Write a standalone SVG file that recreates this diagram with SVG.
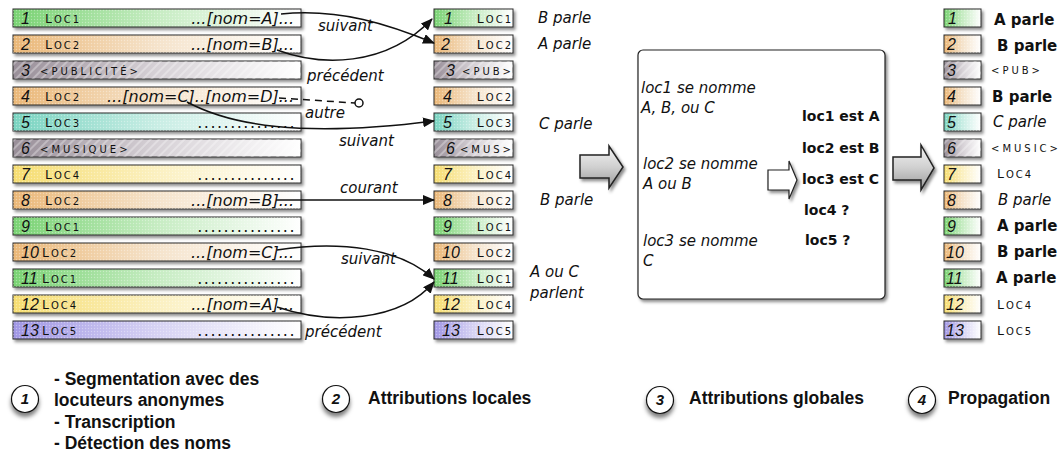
<svg xmlns="http://www.w3.org/2000/svg" width="1064" height="456" viewBox="0 0 1064 456">
<defs>
<style>
.row{stroke:#2a2a2a;stroke-width:1;filter:url(#sh)}
.tex{stroke:none}
.num{font-family:"Liberation Sans",Arial,sans-serif;font-style:italic;font-size:16px;fill:#111}
.sc{font-family:"DejaVu Sans",sans-serif;font-size:10px;letter-spacing:2px;fill:#111}
.sc2{font-family:"DejaVu Sans",sans-serif;font-size:10px;letter-spacing:3px;fill:#111}
.cap{font-size:12.5px}
.nom{font-family:"DejaVu Sans",sans-serif;font-style:italic;font-size:16px;fill:#111;text-anchor:end}
.dots{font-family:"DejaVu Sans",sans-serif;font-size:16px;letter-spacing:1.5px;fill:#111;text-anchor:end}
.it{font-family:"DejaVu Sans",sans-serif;font-style:italic;font-size:15px;fill:#111}
.bd{font-family:"DejaVu Sans",sans-serif;font-weight:bold;font-size:14px;fill:#111}
.bd15{font-family:"DejaVu Sans",sans-serif;font-weight:bold;font-size:15px;fill:#111}
.step{font-family:"Liberation Sans",Arial,sans-serif;font-weight:bold;font-size:17.5px;fill:#111}
.cnum{font-family:"Liberation Sans",Arial,sans-serif;font-weight:bold;font-style:italic;font-size:15px;fill:#111;text-anchor:middle}
.con{fill:none;stroke:#111;stroke-width:1.5}
.circ{fill:#fff;stroke:#111;stroke-width:1.2;filter:url(#sh2)}
.big{stroke:#222;stroke-width:1.5;fill:url(#gArrow);filter:url(#sh)}
</style>
<filter id="sh" x="-20%" y="-30%" width="140%" height="180%">
<feDropShadow dx="2" dy="2.5" stdDeviation="1.5" flood-color="#000" flood-opacity="0.45"/>
</filter>
<filter id="sh2" x="-40%" y="-40%" width="180%" height="200%">
<feDropShadow dx="0" dy="4" stdDeviation="2" flood-color="#000" flood-opacity="0.5"/>
</filter>
<linearGradient id="gGreen"><stop offset="0" stop-color="#78d272"/><stop offset="0.5" stop-color="#c6ecc2"/><stop offset="1" stop-color="#ffffff"/></linearGradient>
<linearGradient id="gTan"><stop offset="0" stop-color="#eab777"/><stop offset="0.5" stop-color="#f5e3cb"/><stop offset="1" stop-color="#ffffff"/></linearGradient>
<linearGradient id="gGray"><stop offset="0" stop-color="#988e98"/><stop offset="0.5" stop-color="#d6d1d6"/><stop offset="1" stop-color="#ffffff"/></linearGradient>
<linearGradient id="gTeal"><stop offset="0" stop-color="#78d3c0"/><stop offset="0.5" stop-color="#c8ede4"/><stop offset="1" stop-color="#ffffff"/></linearGradient>
<linearGradient id="gYel"><stop offset="0" stop-color="#f6dd70"/><stop offset="0.5" stop-color="#fbf0c0"/><stop offset="1" stop-color="#ffffff"/></linearGradient>
<linearGradient id="gPur"><stop offset="0" stop-color="#a096e4"/><stop offset="0.5" stop-color="#d6d2f3"/><stop offset="1" stop-color="#ffffff"/></linearGradient>
<linearGradient id="gArrow" x1="0" y1="0" x2="0" y2="1"><stop offset="0" stop-color="#f4f4f4"/><stop offset="0.5" stop-color="#d0d0d0"/><stop offset="1" stop-color="#9a9a9a"/></linearGradient>
<pattern id="pDots" width="3" height="3" patternUnits="userSpaceOnUse"><circle cx="1.5" cy="1.5" r="0.7" fill="#ffffff" fill-opacity="0.35"/></pattern>
<pattern id="pStripe" width="6" height="6" patternUnits="userSpaceOnUse" patternTransform="rotate(45)"><rect width="2" height="6" fill="#ffffff" fill-opacity="0.3"/></pattern>
<marker id="ah" viewBox="0 0 12 10" refX="11" refY="5" markerWidth="12" markerHeight="10" markerUnits="userSpaceOnUse" orient="auto"><path d="M0,0 L12,5 L0,10 Z" fill="#111"/></marker>
</defs>
<rect width="1064" height="456" fill="#ffffff"/>

<!-- Left column -->
<g id="L1"><rect class="row" x="13" y="9" width="288" height="18" fill="url(#gGreen)"/><rect class="tex" x="13" y="9" width="288" height="18" fill="url(#pDots)"/><text class="num" x="21" y="24">1</text><text class="sc" x="45" y="23"><tspan class="cap">L</tspan>OC1</text><text class="nom" x="294" y="24">...[nom=A]...</text></g>
<g id="L2"><rect class="row" x="13" y="35" width="288" height="18" fill="url(#gTan)"/><rect class="tex" x="13" y="35" width="288" height="18" fill="url(#pDots)"/><text class="num" x="21" y="50">2</text><text class="sc" x="45" y="49"><tspan class="cap">L</tspan>OC2</text><text class="nom" x="294" y="50">...[nom=B]...</text></g>
<g id="L3"><rect class="row" x="13" y="61" width="288" height="18" fill="url(#gGray)"/><rect class="tex" x="13" y="61" width="288" height="18" fill="url(#pStripe)"/><text class="num" x="21" y="76">3</text><text class="sc2" x="40" y="75">&lt;PUBLICITÉ&gt;</text></g>
<g id="L4"><rect class="row" x="13" y="87" width="288" height="18" fill="url(#gTan)"/><rect class="tex" x="13" y="87" width="288" height="18" fill="url(#pDots)"/><text class="num" x="21" y="102">4</text><text class="sc" x="45" y="101"><tspan class="cap">L</tspan>OC2</text><text class="nom" x="294" y="102">...[nom=C]..[nom=D]...</text></g>
<g id="L5"><rect class="row" x="13" y="113" width="288" height="18" fill="url(#gTeal)"/><rect class="tex" x="13" y="113" width="288" height="18" fill="url(#pDots)"/><text class="num" x="21" y="128">5</text><text class="sc" x="45" y="127"><tspan class="cap">L</tspan>OC3</text><text class="dots" x="296" y="128">...............</text></g>
<g id="L6"><rect class="row" x="13" y="139" width="288" height="18" fill="url(#gGray)"/><rect class="tex" x="13" y="139" width="288" height="18" fill="url(#pStripe)"/><text class="num" x="21" y="154">6</text><text class="sc2" x="40" y="153">&lt;MUSIQUE&gt;</text></g>
<g id="L7"><rect class="row" x="13" y="165" width="288" height="18" fill="url(#gYel)"/><rect class="tex" x="13" y="165" width="288" height="18" fill="url(#pDots)"/><text class="num" x="21" y="180">7</text><text class="sc" x="45" y="179"><tspan class="cap">L</tspan>OC4</text><text class="dots" x="296" y="180">...............</text></g>
<g id="L8"><rect class="row" x="13" y="191" width="288" height="18" fill="url(#gTan)"/><rect class="tex" x="13" y="191" width="288" height="18" fill="url(#pDots)"/><text class="num" x="21" y="206">8</text><text class="sc" x="45" y="205"><tspan class="cap">L</tspan>OC2</text><text class="nom" x="294" y="206">...[nom=B]...</text></g>
<g id="L9"><rect class="row" x="13" y="217" width="288" height="18" fill="url(#gGreen)"/><rect class="tex" x="13" y="217" width="288" height="18" fill="url(#pDots)"/><text class="num" x="21" y="232">9</text><text class="sc" x="45" y="231"><tspan class="cap">L</tspan>OC1</text><text class="dots" x="296" y="232">...............</text></g>
<g id="L10"><rect class="row" x="13" y="243" width="288" height="18" fill="url(#gTan)"/><rect class="tex" x="13" y="243" width="288" height="18" fill="url(#pDots)"/><text class="num" x="21" y="258">10</text><text class="sc" x="42" y="257"><tspan class="cap">L</tspan>OC2</text><text class="nom" x="294" y="258">...[nom=C]...</text></g>
<g id="L11"><rect class="row" x="13" y="269" width="288" height="18" fill="url(#gGreen)"/><rect class="tex" x="13" y="269" width="288" height="18" fill="url(#pDots)"/><text class="num" x="21" y="284">11</text><text class="sc" x="42" y="283"><tspan class="cap">L</tspan>OC1</text><text class="dots" x="296" y="284">...............</text></g>
<g id="L12"><rect class="row" x="13" y="295" width="288" height="18" fill="url(#gYel)"/><rect class="tex" x="13" y="295" width="288" height="18" fill="url(#pDots)"/><text class="num" x="21" y="310">12</text><text class="sc" x="42" y="309"><tspan class="cap">L</tspan>OC4</text><text class="nom" x="294" y="310">...[nom=A]...</text></g>
<g id="L13"><rect class="row" x="13" y="321" width="288" height="18" fill="url(#gPur)"/><rect class="tex" x="13" y="321" width="288" height="18" fill="url(#pDots)"/><text class="num" x="21" y="336">13</text><text class="sc" x="42" y="335"><tspan class="cap">L</tspan>OC5</text><text class="dots" x="296" y="336">...............</text></g>

<!-- Middle column -->
<g id="M1"><rect class="row" x="434" y="9" width="79" height="18" fill="url(#gGreen)"/><rect class="tex" x="434" y="9" width="79" height="18" fill="url(#pDots)"/><text class="num" x="444" y="24">1</text><text class="sc" x="513" y="23" text-anchor="end"><tspan class="cap">L</tspan>OC1</text></g>
<g id="M2"><rect class="row" x="434" y="35" width="79" height="18" fill="url(#gTan)"/><rect class="tex" x="434" y="35" width="79" height="18" fill="url(#pDots)"/><text class="num" x="441" y="50">2</text><text class="sc" x="513" y="49" text-anchor="end"><tspan class="cap">L</tspan>OC2</text></g>
<g id="M3"><rect class="row" x="434" y="61" width="79" height="18" fill="url(#gGray)"/><rect class="tex" x="434" y="61" width="79" height="18" fill="url(#pStripe)"/><text class="num" x="446" y="76">3</text><text class="sc2" x="514" y="75" text-anchor="end">&lt;PUB&gt;</text></g>
<g id="M4"><rect class="row" x="434" y="87" width="79" height="18" fill="url(#gTan)"/><rect class="tex" x="434" y="87" width="79" height="18" fill="url(#pDots)"/><text class="num" x="443" y="102">4</text><text class="sc" x="513" y="101" text-anchor="end"><tspan class="cap">L</tspan>OC2</text></g>
<g id="M5"><rect class="row" x="434" y="113" width="79" height="18" fill="url(#gTeal)"/><rect class="tex" x="434" y="113" width="79" height="18" fill="url(#pDots)"/><text class="num" x="443" y="128">5</text><text class="sc" x="513" y="127" text-anchor="end"><tspan class="cap">L</tspan>OC3</text></g>
<g id="M6"><rect class="row" x="434" y="139" width="79" height="18" fill="url(#gGray)"/><rect class="tex" x="434" y="139" width="79" height="18" fill="url(#pStripe)"/><text class="num" x="446" y="154">6</text><text class="sc2" x="514" y="153" text-anchor="end">&lt;MUS&gt;</text></g>
<g id="M7"><rect class="row" x="434" y="165" width="79" height="18" fill="url(#gYel)"/><rect class="tex" x="434" y="165" width="79" height="18" fill="url(#pDots)"/><text class="num" x="443" y="180">7</text><text class="sc" x="513" y="179" text-anchor="end"><tspan class="cap">L</tspan>OC4</text></g>
<g id="M8"><rect class="row" x="434" y="191" width="79" height="18" fill="url(#gTan)"/><rect class="tex" x="434" y="191" width="79" height="18" fill="url(#pDots)"/><text class="num" x="443" y="206">8</text><text class="sc" x="513" y="205" text-anchor="end"><tspan class="cap">L</tspan>OC2</text></g>
<g id="M9"><rect class="row" x="434" y="217" width="79" height="18" fill="url(#gGreen)"/><rect class="tex" x="434" y="217" width="79" height="18" fill="url(#pDots)"/><text class="num" x="443" y="232">9</text><text class="sc" x="513" y="231" text-anchor="end"><tspan class="cap">L</tspan>OC1</text></g>
<g id="M10"><rect class="row" x="434" y="243" width="79" height="18" fill="url(#gTan)"/><rect class="tex" x="434" y="243" width="79" height="18" fill="url(#pDots)"/><text class="num" x="442" y="258">10</text><text class="sc" x="513" y="257" text-anchor="end"><tspan class="cap">L</tspan>OC2</text></g>
<g id="M11"><rect class="row" x="434" y="269" width="79" height="18" fill="url(#gGreen)"/><rect class="tex" x="434" y="269" width="79" height="18" fill="url(#pDots)"/><text class="num" x="442" y="284">11</text><text class="sc" x="513" y="283" text-anchor="end"><tspan class="cap">L</tspan>OC1</text></g>
<g id="M12"><rect class="row" x="434" y="295" width="79" height="18" fill="url(#gYel)"/><rect class="tex" x="434" y="295" width="79" height="18" fill="url(#pDots)"/><text class="num" x="442" y="310">12</text><text class="sc" x="513" y="309" text-anchor="end"><tspan class="cap">L</tspan>OC4</text></g>
<g id="M13"><rect class="row" x="434" y="321" width="79" height="18" fill="url(#gPur)"/><rect class="tex" x="434" y="321" width="79" height="18" fill="url(#pDots)"/><text class="num" x="442" y="336">13</text><text class="sc" x="513" y="335" text-anchor="end"><tspan class="cap">L</tspan>OC5</text></g>

<!-- Middle labels -->
<g id="midlabels">
<text class="it" x="538" y="23">B parle</text>
<text class="it" x="538" y="49">A parle</text>
<text class="it" x="539" y="129">C parle</text>
<text class="it" x="540" y="205">B parle</text>
<text class="it" x="530" y="277">A ou C</text>
<text class="it" x="530" y="298">parlent</text>
</g>

<!-- Connectors -->
<g id="connectors">
<path class="con" d="M281,14 C340,8 390,25 434,43" marker-end="url(#ah)"/>
<path class="con" d="M277,50 C320,66 385,68 432,19" marker-end="url(#ah)"/>
<path class="con" d="M279,98 L355,103" stroke-dasharray="7,5"/>
<circle cx="359" cy="103" r="4" fill="#fff" stroke="#111" stroke-width="1.5"/>
<path class="con" d="M187,102 C230,125 300,138 434,121" marker-end="url(#ah)"/>
<path class="con" d="M276,200 L434,200" marker-end="url(#ah)"/>
<path class="con" d="M277,250 C340,240 400,248 434,279" marker-end="url(#ah)"/>
<path class="con" d="M277,307 C330,325 400,322 434,282" marker-end="url(#ah)"/>
<text class="it" x="318" y="31">suivant</text>
<text class="it" x="307" y="81">précédent</text>
<text class="it" x="305" y="118">autre</text>
<text class="it" x="339" y="146">suivant</text>
<text class="it" x="340" y="193">courant</text>
<text class="it" x="341" y="264">suivant</text>
<text class="it" x="305" y="337">précédent</text>
</g>

<!-- Big arrows -->
<g id="arrow1"><path class="big" d="M580,155 L609,155 L609,146 L623,167 L609,188 L609,178 L580,178 Z"/></g>
<g id="arrow2"><path class="big" d="M893,157 L921,157 L921,145 L934,168 L921,190 L921,180 L893,180 Z"/></g>

<!-- Global box -->
<g id="box">
<rect x="638" y="50" width="247" height="249" rx="5" fill="#fff" stroke="#222" stroke-width="1.2" filter="url(#sh)"/>
<text class="it" x="641" y="93">loc1 se nomme</text>
<text class="it" x="641" y="113">A, B, ou C</text>
<text class="it" x="643" y="169">loc2 se nomme</text>
<text class="it" x="643" y="189"> A ou B</text>
<text class="it" x="643" y="246">loc3 se nomme</text>
<text class="it" x="643" y="266">C</text>
<path d="M768,170 L789,170 L789,161 L797,180 L789,199 L789,190 L768,190 Z" fill="#fff" stroke="#222" stroke-width="1.2" filter="url(#sh)"/>
<text class="bd" x="802" y="121">loc1 est A</text>
<text class="bd" x="802" y="153">loc2 est B</text>
<text class="bd" x="802" y="184">loc3 est C</text>
<text class="bd" x="804" y="215">loc4 ?</text>
<text class="bd" x="805" y="245">loc5 ?</text>
</g>

<!-- Right column -->
<g id="R1"><rect class="row" x="944" y="9" width="37" height="18" fill="url(#gGreen)"/><rect class="tex" x="944" y="9" width="37" height="18" fill="url(#pDots)"/><text class="num" x="948" y="24">1</text><text class="bd15" x="994" y="25">A parle</text></g>
<g id="R2"><rect class="row" x="944" y="35" width="37" height="18" fill="url(#gTan)"/><rect class="tex" x="944" y="35" width="37" height="18" fill="url(#pDots)"/><text class="num" x="947" y="50">2</text><text class="bd15" x="997" y="51">B parle</text></g>
<g id="R3"><rect class="row" x="944" y="61" width="37" height="18" fill="url(#gGray)"/><rect class="tex" x="944" y="61" width="37" height="18" fill="url(#pStripe)"/><text class="num" x="947" y="76">3</text><text class="sc2" x="991" y="74">&lt;PUB&gt;</text></g>
<g id="R4"><rect class="row" x="944" y="87" width="37" height="18" fill="url(#gTan)"/><rect class="tex" x="944" y="87" width="37" height="18" fill="url(#pDots)"/><text class="num" x="947" y="102">4</text><text class="bd15" x="992" y="102">B parle</text></g>
<g id="R5"><rect class="row" x="944" y="113" width="37" height="18" fill="url(#gTeal)"/><rect class="tex" x="944" y="113" width="37" height="18" fill="url(#pDots)"/><text class="num" x="947" y="128">5</text><text class="it" x="993" y="127">C parle</text></g>
<g id="R6"><rect class="row" x="944" y="139" width="37" height="18" fill="url(#gGray)"/><rect class="tex" x="944" y="139" width="37" height="18" fill="url(#pStripe)"/><text class="num" x="947" y="154">6</text><text class="sc2" x="991" y="152">&lt;MUSIC&gt;</text></g>
<g id="R7"><rect class="row" x="944" y="165" width="37" height="18" fill="url(#gYel)"/><rect class="tex" x="944" y="165" width="37" height="18" fill="url(#pDots)"/><text class="num" x="947" y="180">7</text><text class="sc" x="997" y="178"><tspan class="cap">L</tspan>OC4</text></g>
<g id="R8"><rect class="row" x="944" y="191" width="37" height="18" fill="url(#gTan)"/><rect class="tex" x="944" y="191" width="37" height="18" fill="url(#pDots)"/><text class="num" x="947" y="206">8</text><text class="it" x="998" y="205">B parle</text></g>
<g id="R9"><rect class="row" x="944" y="217" width="37" height="18" fill="url(#gGreen)"/><rect class="tex" x="944" y="217" width="37" height="18" fill="url(#pDots)"/><text class="num" x="947" y="232">9</text><text class="bd15" x="997" y="231">A parle</text></g>
<g id="R10"><rect class="row" x="944" y="243" width="37" height="18" fill="url(#gTan)"/><rect class="tex" x="944" y="243" width="37" height="18" fill="url(#pDots)"/><text class="num" x="946" y="258">10</text><text class="bd15" x="997" y="257">B parle</text></g>
<g id="R11"><rect class="row" x="944" y="269" width="37" height="18" fill="url(#gGreen)"/><rect class="tex" x="944" y="269" width="37" height="18" fill="url(#pDots)"/><text class="num" x="946" y="284">11</text><text class="bd15" x="996" y="283">A parle</text></g>
<g id="R12"><rect class="row" x="944" y="295" width="37" height="18" fill="url(#gYel)"/><rect class="tex" x="944" y="295" width="37" height="18" fill="url(#pDots)"/><text class="num" x="946" y="310">12</text><text class="sc" x="997" y="309"><tspan class="cap">L</tspan>OC4</text></g>
<g id="R13"><rect class="row" x="944" y="321" width="37" height="18" fill="url(#gPur)"/><rect class="tex" x="944" y="321" width="37" height="18" fill="url(#pDots)"/><text class="num" x="946" y="336">13</text><text class="sc" x="997" y="335"><tspan class="cap">L</tspan>OC5</text></g>

<!-- Steps -->
<g id="step1"><circle class="circ" cx="25" cy="399" r="13.5"/><text class="cnum" x="25" y="404">1</text>
<text class="step" x="54" y="385">- Segmentation avec des</text>
<text class="step" x="54" y="406">locuteurs anonymes</text>
<text class="step" x="54" y="428">- Transcription</text>
<text class="step" x="54" y="449">- Détection des noms</text></g>
<g id="step2"><circle class="circ" cx="336" cy="399" r="13.5"/><text class="cnum" x="336" y="404">2</text><text class="step" x="368" y="404">Attributions locales</text></g>
<g id="step3"><circle class="circ" cx="660" cy="400" r="13.5"/><text class="cnum" x="660" y="405">3</text><text class="step" x="689" y="404">Attributions globales</text></g>
<g id="step4"><circle class="circ" cx="922" cy="400" r="13.5"/><text class="cnum" x="922" y="405">4</text><text class="step" x="948" y="404">Propagation</text></g>
</svg>
